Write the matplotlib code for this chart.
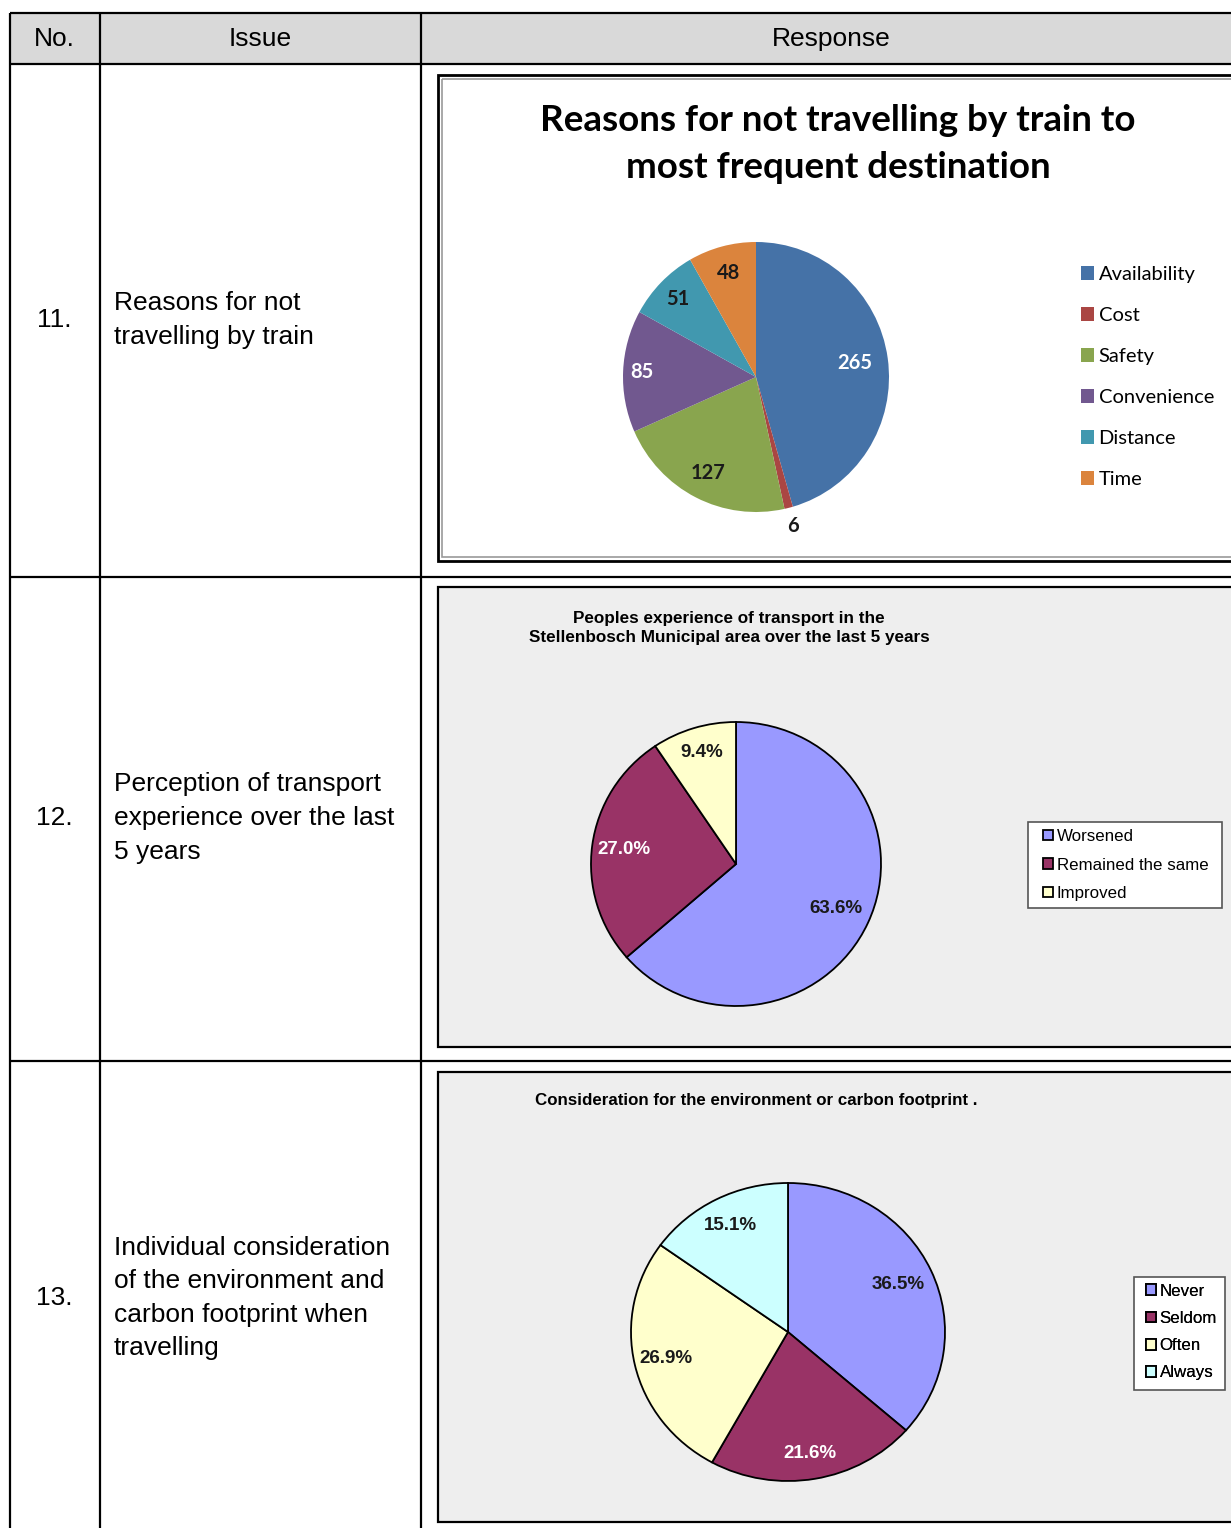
import matplotlib
matplotlib.use("Agg")
import matplotlib.pyplot as plt
from matplotlib.patches import Rectangle
import numpy as np

# Datos de las tres preguntas
header = ["No.", "Issue", "Response"]
row_numbers = ["11.", "12.", "13."]
issues = [
    "Reasons for not\ntravelling by train",
    "Perception of transport\nexperience over the last\n5 years",
    "Individual consideration\nof the environment and\ncarbon footprint when\ntravelling",
]

reasons_labels = ["Availability", "Cost", "Safety", "Convenience", "Distance", "Time"]
reasons_counts = [265, 6, 127, 85, 51, 48]

experience_labels = ["Worsened", "Remained the same", "Improved"]
experience_pct = [63.6, 27.0, 9.4]

carbon_labels = ["Never", "Seldom", "Often", "Always"]
carbon_pct = [36.5, 21.6, 26.9, 15.1]

W, H = 1231, 1528
fig = plt.figure(figsize=(W / 100, H / 100), dpi=100)
fig.patch.set_facecolor("white")

# Eje principal en coordenadas de pixel para la tabla
ax = fig.add_axes([0, 0, 1, 1])
ax.set_xlim(0, W)
ax.set_ylim(H, 0)
ax.axis("off")

TABLE_FONT = "Liberation Sans"

# Encabezado gris y lineas de la tabla
ax.add_patch(Rectangle((10, 13), W - 10, 51, facecolor="#d9d9d9", edgecolor="none"))
for y in [13, 64, 577, 1061]:
    ax.plot([10, W], [y, y], color="black", lw=1.6, solid_capstyle="butt")
for x in [10, 100, 421]:
    ax.plot([x, x], [13, H], color="black", lw=1.6, solid_capstyle="butt")

for txt, x in zip(header, [54, 260, 831]):
    ax.text(x, 39, txt, ha="center", va="center", fontsize=19, family=TABLE_FONT)

row_centers = [320, 818, 1298]
for num, issue, y in zip(row_numbers, issues, row_centers):
    ax.text(54, y, num, ha="center", va="center", fontsize=19, family=TABLE_FONT)
    ax.text(114, y, issue, ha="left", va="center", fontsize=19,
            family=TABLE_FONT, linespacing=1.5)

# Marcos de los graficos
ax.add_patch(Rectangle((438, 75), 820, 486, facecolor="white", edgecolor="black", lw=2))
ax.add_patch(Rectangle((442, 79), 812, 478, facecolor="none", edgecolor="#9a9a9a", lw=1.2))
ax.add_patch(Rectangle((438, 587), 820, 460, facecolor="#eeeeee", edgecolor="black", lw=1.6))
ax.add_patch(Rectangle((438, 1072), 820, 450, facecolor="#eeeeee", edgecolor="black", lw=1.6))


def pie_axes(cx, cy, rx, ry):
    return fig.add_axes([(cx - rx) / W, 1 - (cy + ry) / H, 2 * rx / W, 2 * ry / H])


def place_labels(a, wedges, texts, colors, dist, **kw):
    for w, t, c, d in zip(wedges, texts, colors, dist):
        ang = np.deg2rad((w.theta1 + w.theta2) / 2)
        a.text(d * np.cos(ang), d * np.sin(ang), t, ha="center", va="center",
               color=c, **kw)


def finish(a):
    a.set_aspect("auto")
    a.set_xlim(-1, 1)
    a.set_ylim(-1, 1)
    a.axis("off")


def boxed_legend(wedges, labels, box, x_handle, y_mid, spacing):
    # caja blanca de la leyenda y la leyenda sin marco encima
    ax.add_patch(Rectangle(box[:2], box[2], box[3], facecolor="white",
                           edgecolor="#555555", lw=1.2, zorder=3))
    leg = ax.legend(wedges, labels, loc="center left", bbox_to_anchor=(x_handle, y_mid),
                    bbox_transform=ax.transData, frameon=False,
                    prop=dict(family=TABLE_FONT, size=12.2), handlelength=0.6,
                    handleheight=0.6, handletextpad=0.2, labelspacing=spacing,
                    borderpad=0, borderaxespad=0)
    leg.set_zorder(4)
    ax.add_artist(leg)


# Grafico 11
ax.text(838, 144, "Reasons for not travelling by train to\nmost frequent destination",
        ha="center", va="center", fontsize=26.5, fontweight="bold", family="Lato",
        linespacing=1.5)
c1 = ["#4572A7", "#AA4643", "#89A54E", "#71588F", "#4198AF", "#DB843D"]
a1 = pie_axes(756, 377, 133, 135)
w1, _ = a1.pie(reasons_counts, colors=c1, startangle=90, counterclock=False,
               wedgeprops=dict(linewidth=0))
finish(a1)
place_labels(a1, w1, [str(v) for v in reasons_counts],
             ["white", "#1a1a1a", "#1a1a1a", "white", "#1a1a1a", "#1a1a1a"],
             [0.75, 1.14, 0.8, 0.86, 0.82, 0.8],
             fontsize=14.5, fontweight="bold", family="Lato")
leg1 = ax.legend(w1, reasons_labels, loc="center left", bbox_to_anchor=(1081, 377),
                 bbox_transform=ax.transData, frameon=False,
                 prop=dict(family="Lato", size=14.5), handlelength=0.65, handleheight=0.65,
                 handletextpad=0.22, labelspacing=1.19, borderpad=0, borderaxespad=0)
ax.add_artist(leg1)

# Grafico 12
ax.text(729, 628, "Peoples experience of transport in the\nStellenbosch Municipal area over the last 5 years",
        ha="center", va="center", fontsize=12.3, fontweight="bold", family=TABLE_FONT,
        linespacing=1.35)
c2 = ["#9999FF", "#993366", "#FFFFCC"]
a2 = pie_axes(736, 864, 145, 142)
w2, _ = a2.pie(experience_pct, colors=c2, startangle=90, counterclock=False,
               wedgeprops=dict(linewidth=1.3, edgecolor="black"))
finish(a2)
place_labels(a2, w2, [f"{v:.1f}%" for v in experience_pct],
             ["#1a1a1a", "white", "#1a1a1a"], [0.76, 0.78, 0.82],
             fontsize=13.5, fontweight="bold", family=TABLE_FONT)
boxed_legend(w2, experience_labels, (1028, 822, 194, 86), 1043, 865, 0.8)

# Grafico 13
ax.text(535, 1101, "Consideration for the environment or carbon footprint .",
        ha="left", va="center", fontsize=12.2, fontweight="bold", family=TABLE_FONT)
c3 = ["#9999FF", "#993366", "#FFFFCC", "#CCFFFF"]
a3 = pie_axes(788, 1332, 157, 149)
w3, _ = a3.pie(carbon_pct, colors=c3, startangle=90, counterclock=False,
               wedgeprops=dict(linewidth=1.3, edgecolor="black"))
finish(a3)
place_labels(a3, w3, [f"{v:.1f}%" for v in carbon_pct],
             ["#1a1a1a", "white", "#1a1a1a", "#1a1a1a"], [0.77, 0.83, 0.8, 0.8],
             fontsize=13.5, fontweight="bold", family=TABLE_FONT)
boxed_legend(w3, carbon_labels, (1134, 1277, 91, 113), 1146, 1332, 0.72)

fig.savefig("out.png", dpi=100)
